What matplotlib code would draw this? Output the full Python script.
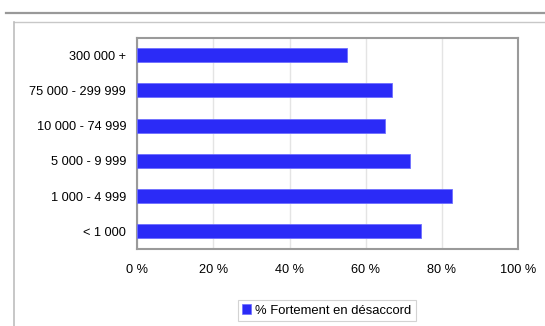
import matplotlib
matplotlib.use("Agg")
import matplotlib.pyplot as plt
from matplotlib.lines import Line2D
from matplotlib.patches import Patch

categories = ["< 1 000", "1 000 - 4 999", "5 000 - 9 999", "10 000 - 74 999",
              "75 000 - 299 999", "300 000 +"]
values = [74.6, 82.7, 71.5, 65.0, 66.8, 55.1]
x_ticks = [0, 20, 40, 60, 80, 100]
x_tick_labels = ["0 %", "20 %", "40 %", "60 %", "80 %", "100 %"]
series_name = "% Fortement en désaccord"

plt.rcParams["font.family"] = ["Liberation Sans", "DejaVu Sans"]

W, H = 545, 326
fig = plt.figure(figsize=(W / 100, H / 100), dpi=100)
fig.patch.set_facecolor("white")

# page decorations: header rule and panel frame
fig.add_artist(Line2D([6 / W, 1], [1 - 12.7 / H] * 2, color="#999999", lw=1.6,
                      transform=fig.transFigure))
fig.add_artist(Line2D([13.7 / W, 1], [1 - 21.7 / H] * 2, color="#c8c8c8", lw=1.0,
                      transform=fig.transFigure))
fig.add_artist(Line2D([13.7 / W] * 2, [0, 1 - 21.7 / H], color="#bdbdbd", lw=1.2,
                      transform=fig.transFigure))

left, right = 137.3 / W, 518.0 / W
bottom, top = 1 - 249.0 / H, 1 - 37.5 / H
ax = fig.add_axes([left, bottom, right - left, top - bottom])

ax.barh(range(len(categories)), values, height=0.4, color="#2b2bf7",
        edgecolor="#6e6eff", linewidth=0.6, zorder=3)

ax.set_xlim(0, 100)
ax.set_ylim(-0.5, len(categories) - 0.5)
ax.set_xticks(x_ticks)
ax.set_xticklabels(x_tick_labels, fontsize=9.2)
ax.set_yticks(range(len(categories)))
ax.set_yticklabels(categories, fontsize=9.2)
ax.tick_params(axis="both", length=0, colors="#000000")
ax.tick_params(axis="x", pad=11)
ax.tick_params(axis="y", pad=8)
ax.xaxis.grid(True, color="#e4e4e4", lw=1.0, zorder=0)
ax.set_axisbelow(True)
for s in ax.spines.values():
    s.set_color("#9a9a9a")
    s.set_linewidth(1.5)

handle = Patch(facecolor="#2b2bf7", edgecolor="#6e6eff", linewidth=0.5)
leg = fig.legend([handle], [series_name], loc="center",
                 bbox_to_anchor=(327 / W, 1 - 310.5 / H), fontsize=9.4,
                 fancybox=False, frameon=True, handlelength=0.7, handleheight=0.7,
                 handletextpad=0.3, borderpad=0.35, borderaxespad=0)
leg.get_frame().set_edgecolor("#c8c8c8")
leg.get_frame().set_linewidth(0.8)

fig.savefig("out.png", dpi=100, facecolor="white")
